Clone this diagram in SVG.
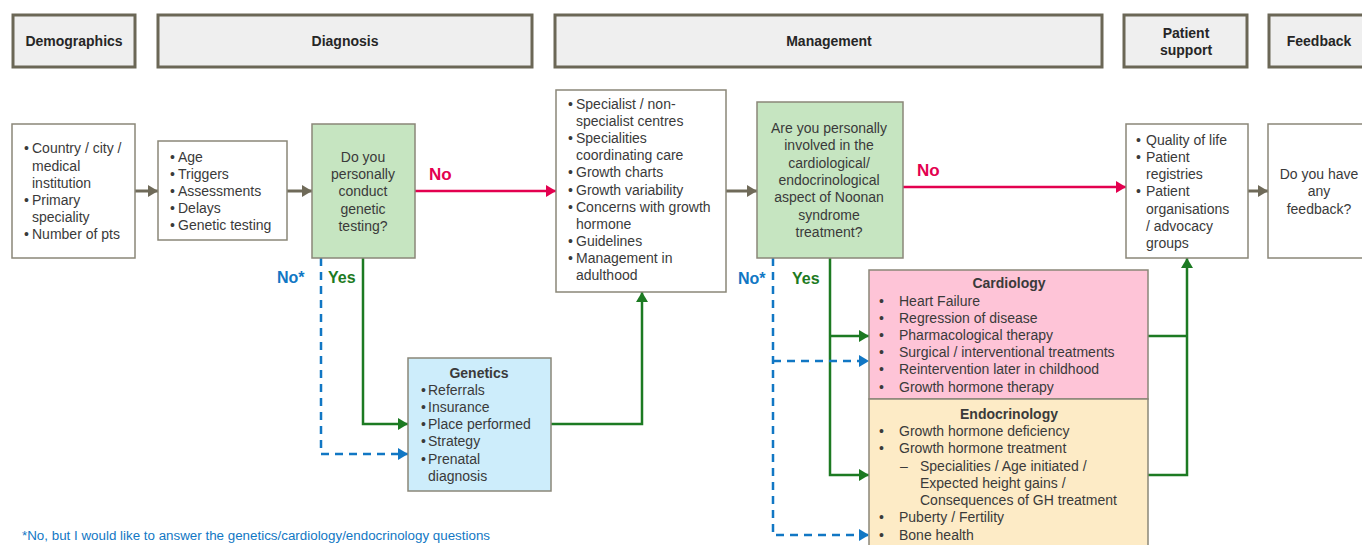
<svg xmlns="http://www.w3.org/2000/svg" width="1362" height="545" viewBox="0 0 1362 545">
<style>
text{font-family:"Liberation Sans",Arial,sans-serif;font-size:14px;fill:#3a3a3a}
.hdr rect{fill:#efefef;stroke:#6b6756;stroke-width:3}
.hdr text{font-weight:bold;text-anchor:middle;fill:#262626}
.box{fill:#fff;stroke:#8a8778;stroke-width:1.5}
.q{fill:#c6e5c1;stroke:#8a8778;stroke-width:1.5}
.c{text-anchor:middle}
.b{font-weight:bold}
.gray{stroke:#6f6a59;stroke-width:3;fill:none}
.red{stroke:#e3004f;stroke-width:2.5;fill:none}
.grn{stroke:#1c7a22;stroke-width:2.5;fill:none}
.blu{stroke:#1177c4;stroke-width:2.5;fill:none;stroke-dasharray:8 6}
</style>
<defs>
<marker id="ag" markerWidth="10" markerHeight="12" refX="10" refY="6" orient="auto" markerUnits="userSpaceOnUse"><path d="M0,0 L10,6 L0,12 Z" fill="#6f6a59"/></marker>
<marker id="ar" markerWidth="10" markerHeight="12" refX="10" refY="6" orient="auto" markerUnits="userSpaceOnUse"><path d="M0,0 L10,6 L0,12 Z" fill="#e3004f"/></marker>
<marker id="agr" markerWidth="10" markerHeight="12" refX="10" refY="6" orient="auto" markerUnits="userSpaceOnUse"><path d="M0,0 L10,6 L0,12 Z" fill="#1c7a22"/></marker>
<marker id="ab" markerWidth="10" markerHeight="12" refX="10" refY="6" orient="auto" markerUnits="userSpaceOnUse"><path d="M0,0 L10,6 L0,12 Z" fill="#1177c4"/></marker>
</defs>
<rect width="1362" height="545" fill="#fff"/>

<g id="headers" class="hdr">
<g id="h-demographics"><rect x="13" y="15" width="122" height="52"/><text x="74" y="46">Demographics</text></g>
<g id="h-diagnosis"><rect x="158" y="15" width="374" height="52"/><text x="345" y="46">Diagnosis</text></g>
<g id="h-management"><rect x="555" y="15" width="547" height="52"/><text x="829" y="46">Management</text></g>
<g id="h-support"><rect x="1124" y="15" width="123" height="52"/><text x="1186" y="38">Patient</text><text x="1186" y="55">support</text></g>
<g id="h-feedback"><rect x="1269" y="15" width="100" height="52"/><text x="1319" y="46">Feedback</text></g>
</g>

<g id="connectors">
<line class="gray" x1="135" y1="191" x2="158" y2="191" marker-end="url(#ag)"/>
<line class="gray" x1="287" y1="191" x2="312" y2="191" marker-end="url(#ag)"/>
<line class="red" x1="415" y1="191" x2="556" y2="191" marker-end="url(#ar)"/>
<line class="gray" x1="726" y1="191" x2="757" y2="191" marker-end="url(#ag)"/>
<line class="red" x1="903" y1="187" x2="1126" y2="187" marker-end="url(#ar)"/>
<line class="gray" x1="1248" y1="191" x2="1268" y2="191" marker-end="url(#ag)"/>
<polyline class="grn" points="363,258 363,424 408,424" marker-end="url(#agr)"/>
<polyline class="blu" points="321,258 321,454 408,454" marker-end="url(#ab)"/>
<polyline class="grn" points="551,424 642,424 642,292" marker-end="url(#agr)"/>
<polyline class="grn" points="830,258 830,475 869,475" marker-end="url(#agr)"/>
<polyline class="grn" points="830,336 869,336" marker-end="url(#agr)"/>
<polyline class="blu" points="773,258 773,535 869,535" marker-end="url(#ab)"/>
<polyline class="blu" points="773,361 869,361" marker-end="url(#ab)"/>
<polyline class="grn" points="1148,336 1187,336"/>
<polyline class="grn" points="1148,475 1187,475 1187,258" marker-end="url(#agr)"/>
<text x="429" y="180" style="fill:#e3004f;font-weight:bold;font-size:17px">No</text>
<text x="917" y="176" style="fill:#e3004f;font-weight:bold;font-size:17px">No</text>
<text x="277" y="283" style="fill:#1177c4;font-weight:bold;font-size:16px">No*</text>
<text x="328" y="283" style="fill:#1c7a22;font-weight:bold;font-size:16px">Yes</text>
<text x="738" y="284" style="fill:#1177c4;font-weight:bold;font-size:16px">No*</text>
<text x="792" y="284" style="fill:#1c7a22;font-weight:bold;font-size:16px">Yes</text>
</g>

<g id="demographics">
<rect class="box" x="12" y="124" width="123" height="134"/>
<text x="24" y="153">•</text><text x="32" y="153">Country / city /</text>
<text x="32" y="171">medical</text>
<text x="32" y="188">institution</text>
<text x="24" y="205">•</text><text x="32" y="205">Primary</text>
<text x="32" y="222">speciality</text>
<text x="24" y="239">•</text><text x="32" y="239">Number  of pts</text>
</g>

<g id="diagnosis-topics">
<rect class="box" x="158" y="141" width="129" height="99"/>
<text x="170" y="162">•</text><text x="178" y="162">Age</text>
<text x="170" y="179">•</text><text x="178" y="179">Triggers</text>
<text x="170" y="196">•</text><text x="178" y="196">Assessments</text>
<text x="170" y="213">•</text><text x="178" y="213">Delays</text>
<text x="170" y="230">•</text><text x="178" y="230">Genetic testing</text>
</g>

<g id="q-genetic">
<rect class="q" x="312" y="124" width="103" height="134"/>
<text class="c" x="363" y="162">Do you</text>
<text class="c" x="363" y="179">personally</text>
<text class="c" x="363" y="196">conduct</text>
<text class="c" x="363" y="214">genetic</text>
<text class="c" x="363" y="231">testing?</text>
</g>

<g id="genetics">
<rect x="408" y="358" width="143" height="133" fill="#cdedfb" stroke="#8a8778" stroke-width="1.5"/>
<text class="c b" x="479" y="378">Genetics</text>
<text x="421" y="395">•</text><text x="428" y="395">Referrals</text>
<text x="421" y="412">•</text><text x="428" y="412">Insurance</text>
<text x="421" y="429">•</text><text x="428" y="429">Place performed</text>
<text x="421" y="446">•</text><text x="428" y="446">Strategy</text>
<text x="421" y="464">•</text><text x="428" y="464">Prenatal</text>
<text x="428" y="481">diagnosis</text>
</g>

<g id="management-topics">
<rect class="box" x="556" y="90" width="170" height="202"/>
<text x="568" y="109">•</text><text x="576" y="109">Specialist / non-</text>
<text x="576" y="126">specialist centres</text>
<text x="568" y="143">•</text><text x="576" y="143">Specialities</text>
<text x="576" y="160">coordinating care</text>
<text x="568" y="177">•</text><text x="576" y="177">Growth charts</text>
<text x="568" y="195">•</text><text x="576" y="195">Growth variability</text>
<text x="568" y="212">•</text><text x="576" y="212">Concerns with growth</text>
<text x="576" y="229">hormone</text>
<text x="568" y="246">•</text><text x="576" y="246">Guidelines</text>
<text x="568" y="263">•</text><text x="576" y="263">Management  in</text>
<text x="576" y="280">adulthood</text>
</g>

<g id="q-involved">
<rect class="q" x="757" y="102" width="146" height="156"/>
<text class="c" x="829" y="133">Are you personally</text>
<text class="c" x="829" y="150">involved in the</text>
<text class="c" x="829" y="168">cardiological/</text>
<text class="c" x="829" y="185">endocrinological</text>
<text class="c" x="829" y="202">aspect of Noonan</text>
<text class="c" x="829" y="220">syndrome</text>
<text class="c" x="829" y="237">treatment?</text>
</g>

<g id="cardiology">
<rect x="869" y="270" width="279" height="129" fill="#fec4d7" stroke="#8a8778" stroke-width="1.5"/>
<text class="c b" x="1009" y="288">Cardiology</text>
<text x="879" y="306">•</text><text x="899" y="306">Heart Failure</text>
<text x="879" y="323">•</text><text x="899" y="323">Regression of disease</text>
<text x="879" y="340">•</text><text x="899" y="340">Pharmacological therapy</text>
<text x="879" y="357">•</text><text x="899" y="357">Surgical / interventional treatments</text>
<text x="879" y="374">•</text><text x="899" y="374">Reintervention later in childhood</text>
<text x="879" y="392">•</text><text x="899" y="392">Growth hormone therapy</text>
</g>

<g id="endocrinology">
<rect x="869" y="399" width="279" height="155" fill="#fdebc6" stroke="#8a8778" stroke-width="1.5"/>
<text class="c b" x="1009" y="419">Endocrinology</text>
<text x="879" y="436">•</text><text x="899" y="436">Growth hormone deficiency</text>
<text x="879" y="453">•</text><text x="899" y="453">Growth hormone treatment</text>
<text x="900" y="471">–</text><text x="920" y="471">Specialities / Age  initiated /</text>
<text x="920" y="488">Expected height gains /</text>
<text x="920" y="505">Consequences of GH  treatment</text>
<text x="879" y="522">•</text><text x="899" y="522">Puberty / Fertility</text>
<text x="879" y="540">•</text><text x="899" y="540">Bone health</text>
</g>

<g id="patient-support">
<rect class="box" x="1126" y="124" width="122" height="134"/>
<text x="1136" y="145">•</text><text x="1146" y="145">Quality of life</text>
<text x="1136" y="162">•</text><text x="1146" y="162">Patient</text>
<text x="1146" y="179">registries</text>
<text x="1136" y="196">•</text><text x="1146" y="196">Patient</text>
<text x="1146" y="214">organisations</text>
<text x="1146" y="231">/ advocacy</text>
<text x="1146" y="248">groups</text>
</g>

<g id="feedback">
<rect class="box" x="1268" y="124" width="110" height="134"/>
<text class="c" x="1319" y="179">Do you have</text>
<text class="c" x="1319" y="196">any</text>
<text class="c" x="1319" y="214">feedback?</text>
</g>

<text id="footnote" x="22" y="540" textLength="468" lengthAdjust="spacingAndGlyphs" style="fill:#1177c4;font-size:12.5px">*No, but I would like to answer the genetics/cardiology/endocrinology questions</text>
</svg>
